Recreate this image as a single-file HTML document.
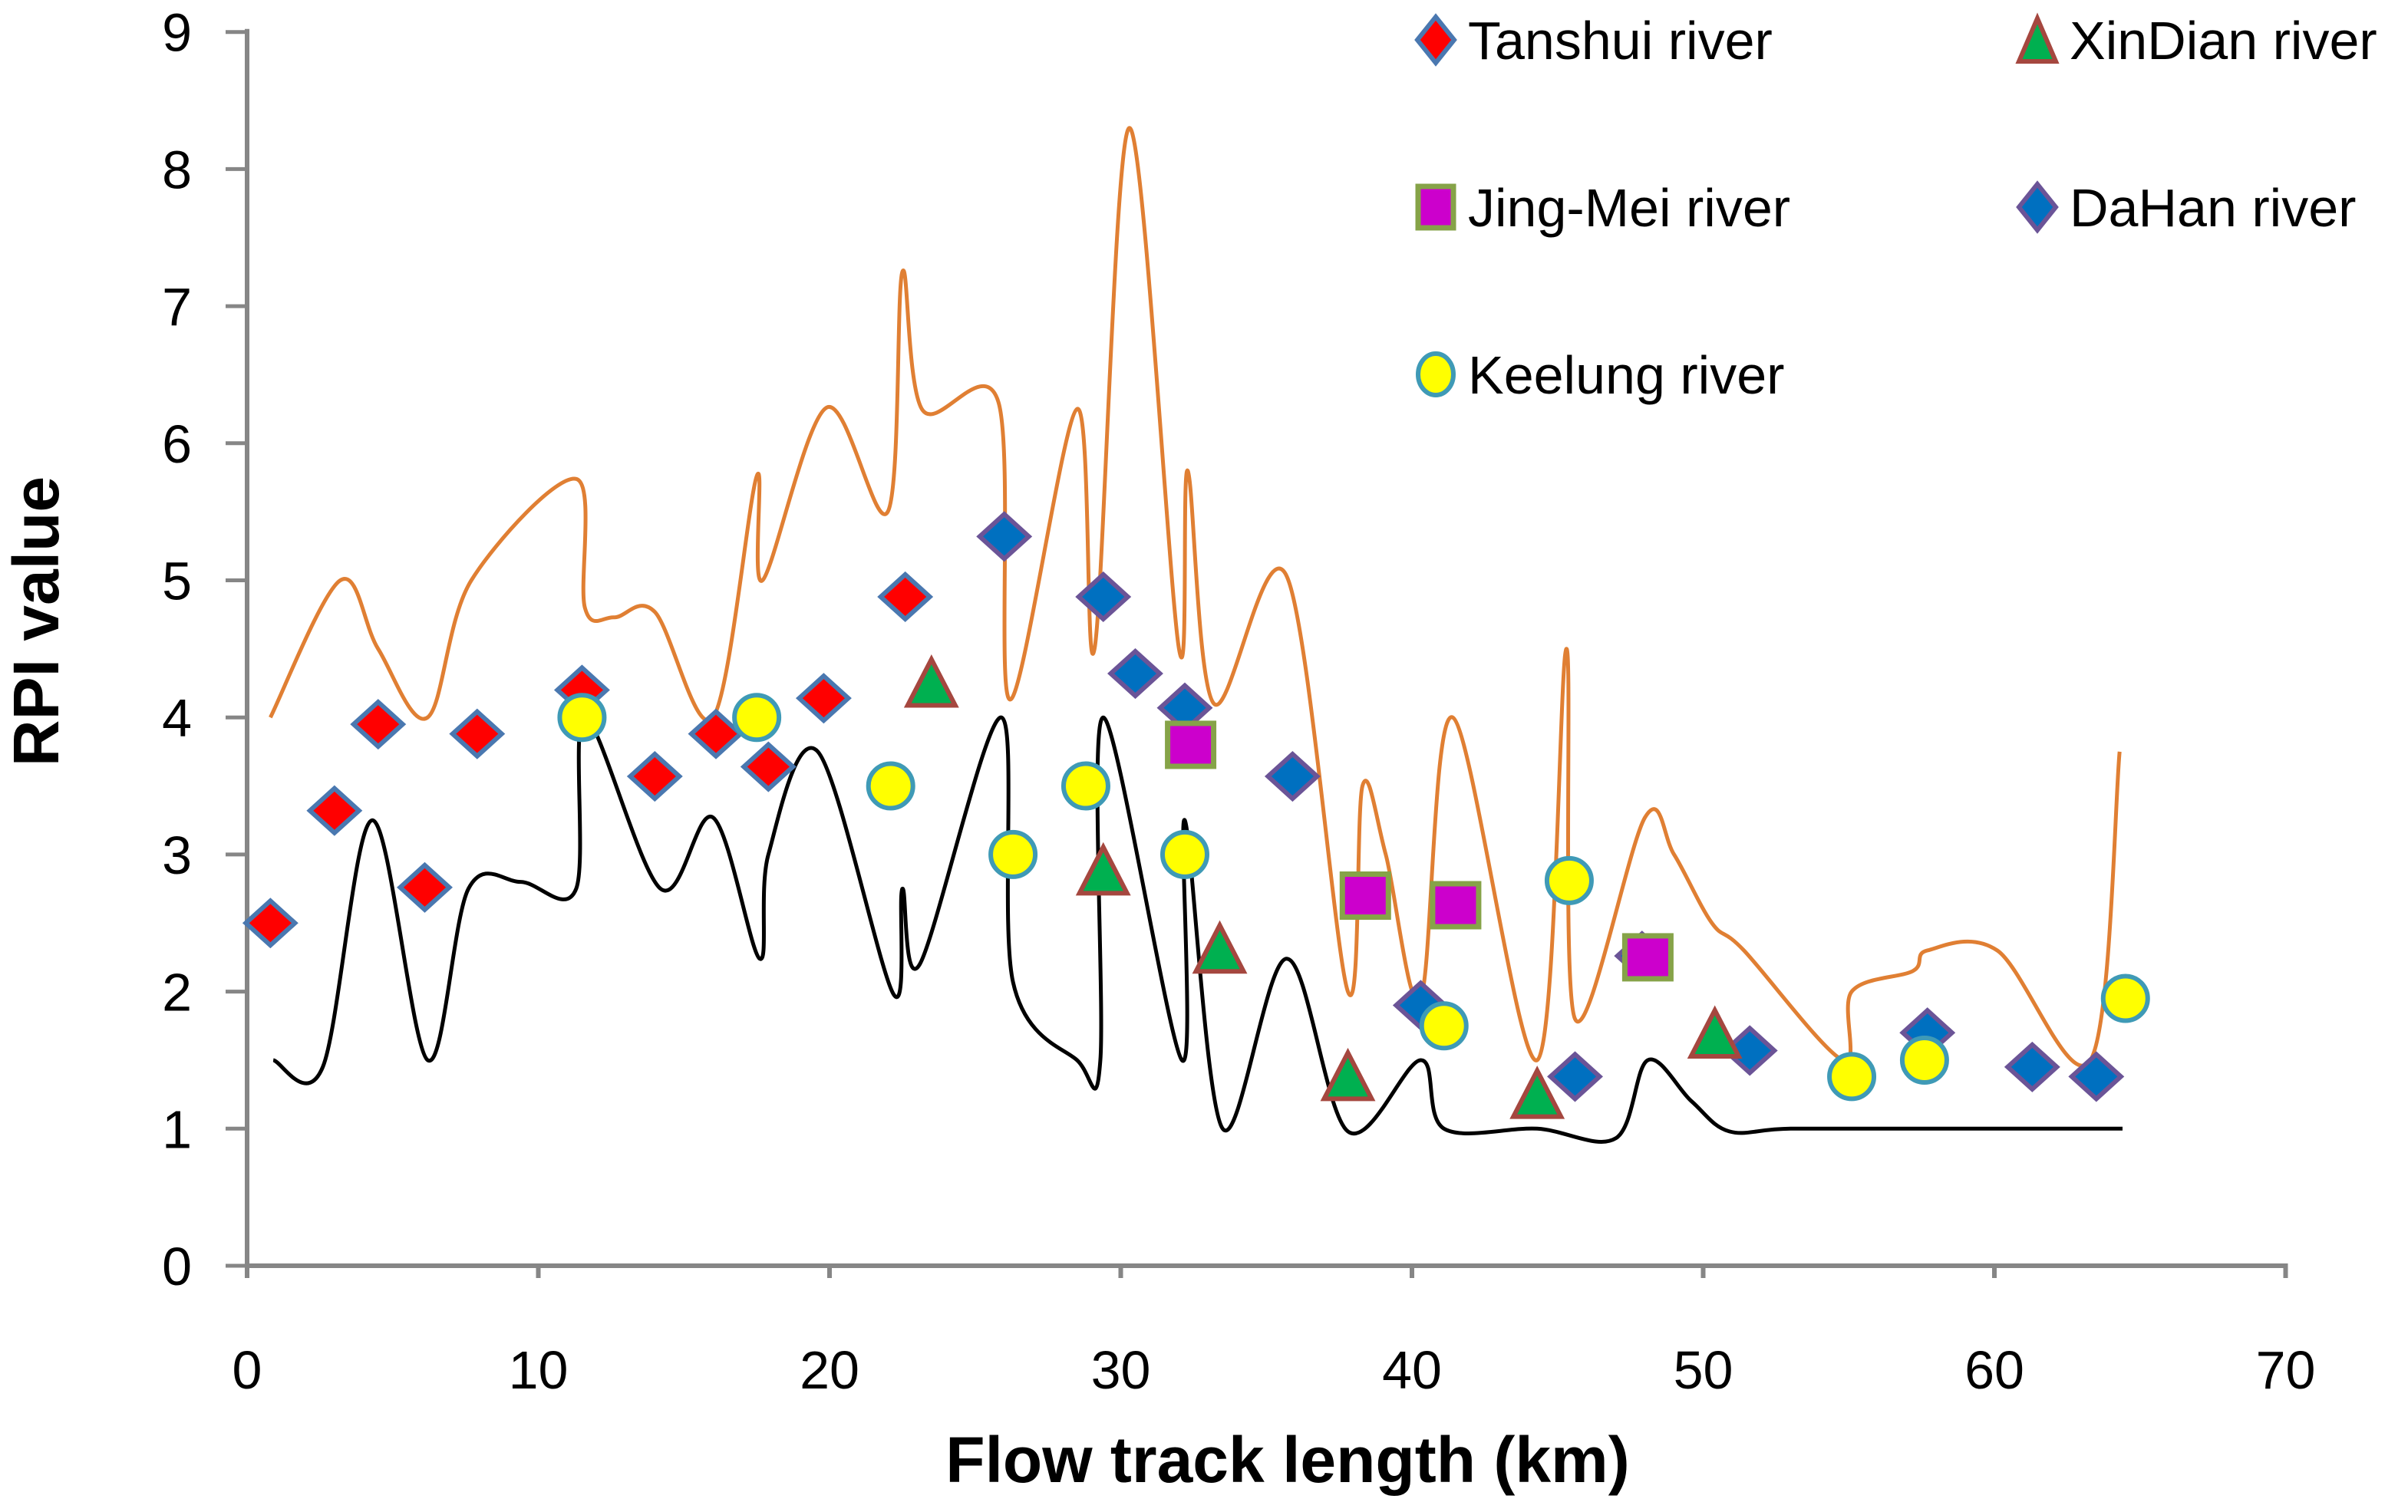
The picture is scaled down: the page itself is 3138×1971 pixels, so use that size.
<!DOCTYPE html>
<html><head><meta charset="utf-8"><style>
html,body{margin:0;padding:0;background:#fff;}
svg{display:block;}
text{font-family:"Liberation Sans",sans-serif;}
</style></head><body>
<svg id="chart" width="3138" height="1971" viewBox="0 0 3138 1971">
<g id="axes"></g><g id="lines"></g><g id="marks"></g><g id="legend"></g>
</svg>
<script>
const xTicks=[0,10,20,30,40,50,60,70];
const yTicks=[0,1,2,3,4,5,6,7,8,9];
const tanX=[0.8,3,4.5,6.1,7.9,11.5,14,16.1,17.9,19.8,22.6];
const tanY=[2.5,3.32,3.95,2.76,3.88,4.2,3.57,3.88,3.64,4.14,4.88];
const dahX=[26,29.4,30.5,32.2,35.9,40.3,45.6,47.9,51.6,57.7,61.3,63.5];
const dahY=[5.32,4.88,4.32,4.07,3.57,1.9,1.38,2.26,1.57,1.7,1.45,1.38];
const xinX=[23.5,29.4,33.4,37.8,44.3,50.4];
const xinY=[4.25,2.88,2.31,1.38,1.25,1.69];
const jingX=[32.4,38.4,41.5,48.1];
const jingY=[3.8,2.7,2.63,2.25];
const keeX=[11.5,17.5,22.1,26.3,28.8,32.2,41.1,45.4,55.1,57.6,64.5];
const keeY=[4.0,4.0,3.5,3.0,3.5,3.0,1.75,2.81,1.38,1.5,1.95];
const upX=[0.8,3.2,4.5,6.2,7.7,11.3,11.6,12.6,14,16,17.5,17.7,19.9,22,22.5,23.2,25.8,26.2,28.5,29.1,30.3,32,32.3,33.2,35.7,37.8,38.3,39.1,40.3,41.4,44.3,45.3,45.6,48,49,50.3,51.4,54.8,55.1,57.2,57.7,60.1,63.3,64.3];
const upY=[4.0,5.0,4.5,4.0,5.0,5.74,4.8,4.73,4.77,4.0,5.76,5.0,6.26,5.5,7.25,6.24,6.3,4.13,6.25,4.5,8.3,4.5,5.8,4.1,5.03,2.0,3.5,3.0,1.95,4.0,1.5,4.5,1.8,3.27,3.0,2.5,2.3,1.5,2.0,2.15,2.3,2.3,1.5,3.75];
const loX=[0.9,2.6,4.3,6.2,7.6,9.4,11.3,11.6,14.2,16,17.6,17.9,19.6,22.2,22.5,23.1,25.9,26.3,28.5,29.3,29.4,32.1,32.2,33.5,35.7,37.8,40.3,41.1,44.3,47,48.1,49.6,50.9,53,58,64.4];
const loY=[1.5,1.45,3.25,1.5,2.75,2.8,2.75,4.0,2.75,3.27,2.24,3.0,3.75,1.98,2.75,2.2,4.0,2.07,1.5,1.5,4.0,1.5,3.25,1.0,2.24,0.98,1.5,1.0,1.0,0.93,1.5,1.2,0.98,1.0,1.0,1.0];

const NS='http://www.w3.org/2000/svg';
const X0=322,XU=37.95,Y0=1650,YU=178.7;
function sx(v){return X0+v*XU;}
function sy(v){return Y0-v*YU;}
function mk(tag,attrs,parent){const e=document.createElementNS(NS,tag);for(const k in attrs)e.setAttribute(k,attrs[k]);parent.appendChild(e);return e;}
const axes=document.getElementById('axes');
const AX='#868686';
let e=mk('line',{x1:X0,y1:sy(9)-4,x2:X0,y2:Y0+14,stroke:AX,'stroke-width':6},axes);


e=mk('line',{x1:X0-3,y1:Y0,x2:sx(70)+3,y2:Y0,stroke:AX,'stroke-width':6},axes);


yTicks.forEach(t=>{
  mk('line',{x1:X0-28,y1:sy(t),x2:X0,y2:sy(t),stroke:AX,'stroke-width':5},axes);
  const tx=mk('text',{x:250,y:sy(t)+25,'text-anchor':'end','font-size':70},axes);tx.textContent=t;
  
  
});
xTicks.forEach(t=>{
  mk('line',{x1:sx(t),y1:Y0,x2:sx(t),y2:Y0+16,stroke:AX,'stroke-width':6},axes);
  const tx=mk('text',{x:sx(t),y:1810,'text-anchor':'middle','font-size':70},axes);tx.textContent=t;
  
  
});
e=mk('text',{x:1678,y:1932,'text-anchor':'middle','font-size':84,'font-weight':'bold'},axes);e.textContent='Flow track length (km)';


e=mk('text',{x:0,y:0,'text-anchor':'middle','font-size':84,'font-weight':'bold',transform:'translate(76,810) rotate(-90)'},axes);e.textContent='RPI  value';



function smooth(xs,ys){
  const p=xs.map((x,i)=>[sx(x),sy(ys[i])]);
  let d='M'+p[0][0]+','+p[0][1];
  for(let i=0;i<p.length-1;i++){
    const p0=p[i-1]||p[i],p1=p[i],p2=p[i+1],p3=p[i+2]||p2;
    const t=6;
    const c1=[p1[0]+(p2[0]-p0[0])/t,p1[1]+(p2[1]-p0[1])/t];
    const c2=[p2[0]-(p3[0]-p1[0])/t,p2[1]-(p3[1]-p1[1])/t];
    d+=' C'+c1[0]+','+c1[1]+' '+c2[0]+','+c2[1]+' '+p2[0]+','+p2[1];
  }
  return d;
}
const lines=document.getElementById('lines');
e=mk('path',{d:smooth(upX,upY),fill:'none',stroke:'#E07F33','stroke-width':5},lines);


e=mk('path',{d:smooth(loX,loY),fill:'none',stroke:'#000','stroke-width':5},lines);



function diamond(g,cx,cy,fill,stroke){return mk('polygon',{points:`${cx-32},${cy} ${cx},${cy-29} ${cx+32},${cy} ${cx},${cy+29}`,fill:fill,stroke:stroke,'stroke-width':6},g);}
function tri(g,cx,cy){return mk('polygon',{points:`${cx-31},${cy+29} ${cx},${cy-31} ${cx+31},${cy+29}`,fill:'#00B050',stroke:'#A5473F','stroke-width':6},g);}
function sq(g,cx,cy){return mk('rect',{x:cx-30,y:cy-28,width:60,height:56,fill:'#CC00CC',stroke:'#86A348','stroke-width':7},g);}
function circ(g,cx,cy){return mk('circle',{cx:cx,cy:cy,r:29,fill:'#FFFF00',stroke:'#3F9AB6','stroke-width':6},g);}
const marks=document.getElementById('marks');
tanX.forEach((x,i)=>{const m=diamond(marks,sx(x),sy(tanY[i]),'#FF0000','#4A78B0');

});
dahX.forEach((x,i)=>{const m=diamond(marks,sx(x),sy(dahY[i]),'#0070C0','#6B5497');

});
jingX.forEach((x,i)=>{const m=sq(marks,sx(x),sy(jingY[i]));

});
xinX.forEach((x,i)=>{const m=tri(marks,sx(x),sy(xinY[i]));

});
keeX.forEach((x,i)=>{const m=circ(marks,sx(x),sy(keeY[i]));

});

const lg=document.getElementById('legend');
const entries=[['Tanshui river',1871,52,'tan'],['XinDian river',2655,52,'xin'],['Jing-Mei river',1871,270,'jing'],['DaHan river',2655,270,'dah'],['Keelung river',1871,488,'kee']];
entries.forEach(en=>{
  const g=mk('g',{},lg);
  
  
  const [lab,x,y,k]=en;
  if(k==='tan')mk('polygon',{points:`${x-24},${y} ${x},${y-30} ${x+24},${y} ${x},${y+30}`,fill:'#FF0000',stroke:'#4A78B0','stroke-width':6},g);
  if(k==='dah')mk('polygon',{points:`${x-24},${y} ${x},${y-30} ${x+24},${y} ${x},${y+30}`,fill:'#0070C0',stroke:'#6B5497','stroke-width':6},g);
  if(k==='xin')mk('polygon',{points:`${x-24},${y+28} ${x},${y-28} ${x+24},${y+28}`,fill:'#00B050',stroke:'#A5473F','stroke-width':6},g);
  if(k==='jing')mk('rect',{x:x-23,y:y-27,width:46,height:54,fill:'#CC00CC',stroke:'#86A348','stroke-width':7},g);
  if(k==='kee')mk('ellipse',{cx:x,cy:y,rx:23,ry:27,fill:'#FFFF00',stroke:'#3F9AB6','stroke-width':6},g);
  const t=mk('text',{x:x+42,y:y+25,'font-size':70},g);t.textContent=lab;
});
</script>
</body></html>
